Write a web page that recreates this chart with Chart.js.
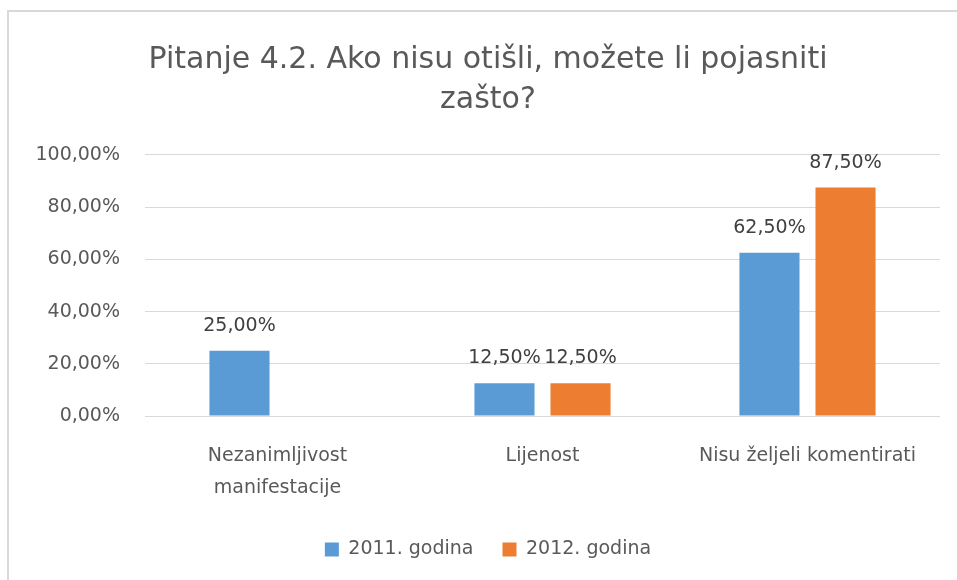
<!DOCTYPE html>
<html>
<head>
<meta charset="utf-8">
<script src="https://cdn.jsdelivr.net/npm/chart.js@4.4.0/dist/chart.umd.min.js"></script>
<style>
  html, body { margin: 0; padding: 0; background: #fff; overflow: hidden; }
  #wrap { position: relative; width: 957px; height: 580px; }
</style>
</head>
<body>
<div id="wrap"><canvas id="chart" width="957" height="580"></canvas></div>
<script>
const titleLines = ['Pitanje 4.2. Ako nisu otišli, možete li pojasniti', 'zašto?'];
const categories = [['Nezanimljivost', 'manifestacije'], 'Lijenost', 'Nisu željeli komentirati'];
const seriesNames = ['2011. godina', '2012. godina'];
const values2011 = [25, 12.5, 62.5];
const values2012 = [null, 12.5, 87.5];
const yTicks = [0, 20, 40, 60, 80, 100];

const fmt = v => v.toFixed(2).replace('.', ',') + '%';
const textColor = '#595959';
const font = 'DejaVu Sans';

// frame around the whole chart, like the spreadsheet chart border
const framePlugin = {
  id: 'frame',
  beforeDraw(chart) {
    const ctx = chart.ctx;
    ctx.save();
    ctx.strokeStyle = '#d9d9d9';
    ctx.lineWidth = 2;
    ctx.strokeRect(8, 11, 1000, 700);
    ctx.restore();
  }
};

// value labels above each bar
const barLabels = {
  id: 'barLabels',
  afterDatasetsDraw(chart) {
    const ctx = chart.ctx;
    ctx.save();
    ctx.font = '19px "' + font + '"';
    ctx.fillStyle = '#404040';
    ctx.textAlign = 'center';
    ctx.textBaseline = 'middle';
    chart.data.datasets.forEach((ds, i) => {
      chart.getDatasetMeta(i).data.forEach((bar, j) => {
        const v = ds.data[j];
        if (v === null || v === undefined) return;
        ctx.fillText(fmt(v), bar.x, bar.y - 25);
      });
    });
    ctx.restore();
  }
};

new Chart(document.getElementById('chart'), {
  type: 'bar',
  data: {
    labels: categories,
    datasets: [
      { label: seriesNames[0], data: values2011, backgroundColor: '#5B9BD5' },
      { label: seriesNames[1], data: values2012, backgroundColor: '#ED7D31' }
    ]
  },
  options: {
    responsive: false,
    animation: false,
    categoryPercentage: 0.574,
    barPercentage: 0.79,
    layout: { padding: { left: 36, right: 17, top: 0, bottom: 11 } },
    plugins: {
      title: {
        display: true,
        text: titleLines,
        color: textColor,
        font: { family: font, size: 30, weight: 'normal', lineHeight: 1.333 },
        padding: { top: 40, bottom: 35 }
      },
      legend: {
        position: 'bottom',
        labels: {
          color: textColor,
          font: { family: font, size: 19 },
          boxWidth: 14,
          boxHeight: 14,
          padding: 29
        }
      },
      tooltip: { enabled: false }
    },
    scales: {
      x: {
        grid: { display: false, drawTicks: false },
        border: { display: false },
        ticks: {
          color: textColor,
          font: { family: font, size: 19, lineHeight: 1.68 },
          padding: 24,
          maxRotation: 0
        },
        afterFit(scale) { scale.height = 95; }
      },
      y: {
        min: 0,
        max: 100,
        afterBuildTicks(scale) { scale.ticks = yTicks.map(v => ({ value: v })); },
        grid: { color: '#d9d9d9', lineWidth: 1, drawTicks: false },
        border: { display: false },
        ticks: {
          color: textColor,
          font: { family: font, size: 19 },
          padding: 25,
          callback: v => fmt(v)
        },
        afterFit(scale) { scale.width = 109; }
      }
    }
  },
  plugins: [framePlugin, barLabels]
});
</script>
</body>
</html>
